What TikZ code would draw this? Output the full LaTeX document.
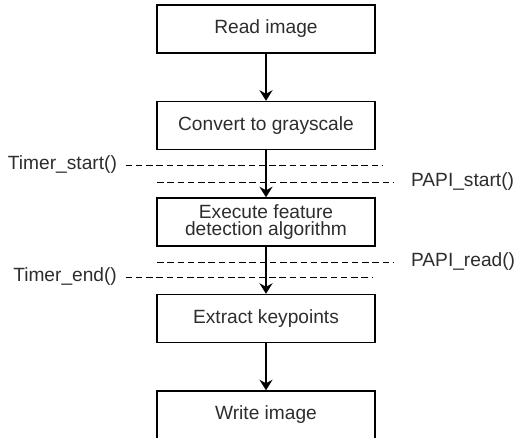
\documentclass[tikz,border=0pt]{standalone}
\usepackage{fontspec}
\setmainfont{Liberation Sans}
\usetikzlibrary{arrows.meta}
\newcommand{\BX}{5.32}
\newcommand{\DY}{1.93}
\newcommand{\YTOP}{8.16}
\definecolor{txtgray}{RGB}{45,45,45}

\begin{document}
\begin{tikzpicture}[
    >={Stealth[inset=0.7mm, length=2.1mm, width=2.6mm]},
    blk/.style={draw=black, line width=0.8pt, minimum width=4.36cm, minimum height=0.96cm,
      inner sep=2pt, align=center, text=txtgray, font=\fontsize{10.9}{9.6}\selectfont},
    flow/.style={->, draw=black, line width=1.1pt},
    probe/.style={draw=black, line width=0.5pt, dash pattern=on 1.3mm off 0.75mm},
    call/.style={text=txtgray, font=\fontsize{10.9}{12}\selectfont, inner sep=1pt},
  ]
  \useasboundingbox (0,0) rectangle (10.3,8.74);

  %% ================= the five steps, one under the other =================
  \node[blk] (read)    at (\BX,{\YTOP})        {Read image};
  \node[blk] (gray)    at (\BX,{\YTOP-\DY})    {Convert to grayscale};
  \node[blk] (detect)  at (\BX,{\YTOP-2*\DY})  {Execute feature\\detection algorithm};
  \node[blk] (extract) at (\BX,{\YTOP-3*\DY})  {Extract keypoints};
  \node[blk] (write)   at (\BX,{\YTOP-4*\DY})  {Write image};

  \foreach \a/\b in {read/gray, gray/detect, detect/extract, extract/write} {
    \draw[flow] (\a.south) -- (\b.north);
  }

  %% ================= the measuring calls, dashed across the flow =========
  \node[call, anchor=east] (tstart) at (2.38,5.44) {Timer\_start()};
  \coordinate (tstartE) at (7.64,5.44);
  \draw[probe] ([xshift=1.3mm]tstart.east) -- (tstartE);

  \node[call, anchor=west] (pstart) at (8.18,5.10) {PAPI\_start()};
  \coordinate (pstartW) at (3.14,5.10);
  \draw[probe] (pstartW) -- ([xshift=-3mm]pstart.west);

  \node[call, anchor=west] (pread) at (8.18,3.50) {PAPI\_read()};
  \coordinate (preadW) at (3.14,3.50);
  \draw[probe] (preadW) -- ([xshift=-3mm]pread.west);

  \node[call, anchor=east] (tend) at (2.38,3.20) {Timer\_end()};
  \coordinate (tendE) at (7.46,3.20);
  \draw[probe] ([xshift=1.3mm]tend.east) -- (tendE);

\end{tikzpicture}
\end{document}
